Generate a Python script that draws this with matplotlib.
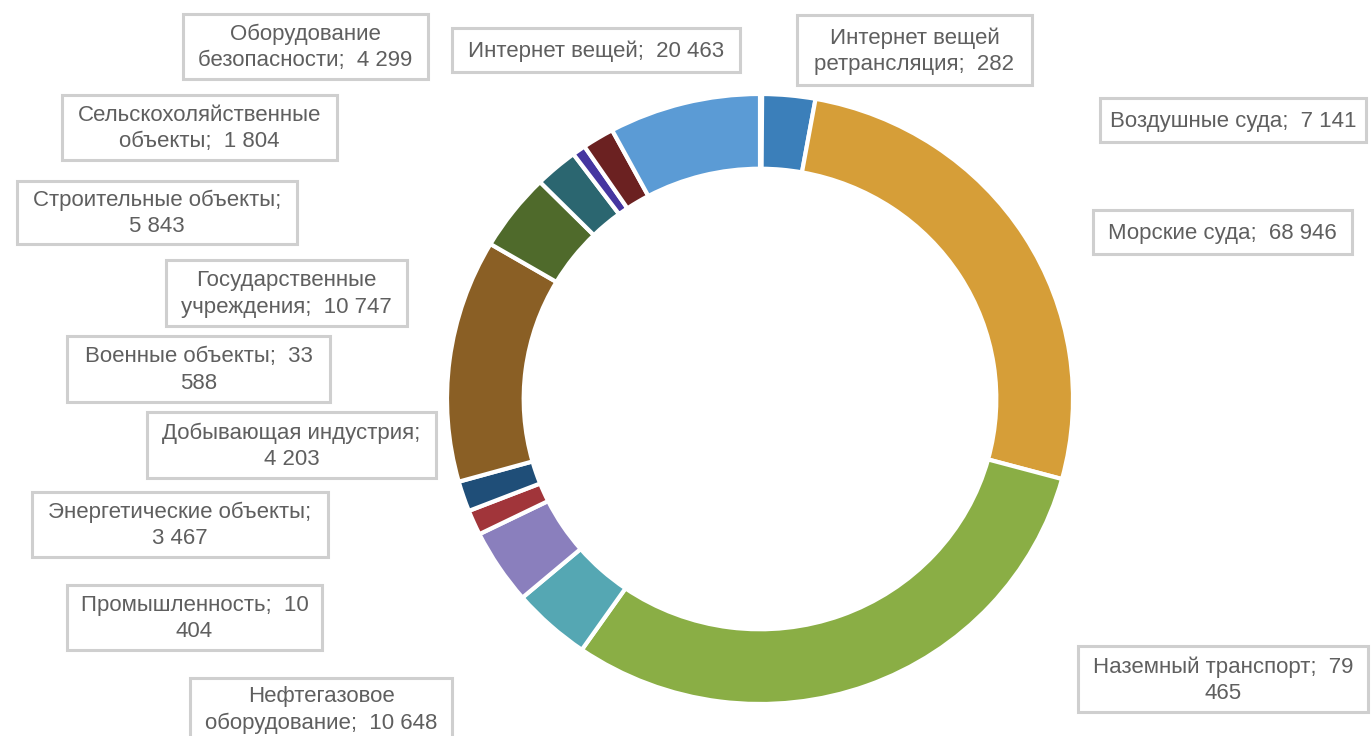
import matplotlib
matplotlib.use("Agg")
import matplotlib.pyplot as plt
from matplotlib.patches import Rectangle

plt.rcParams['font.family'] = ['Liberation Sans', 'DejaVu Sans']

# ---- data ----
categories = [
    "Интернет вещей ретрансляция", "Воздушные суда", "Морские суда",
    "Наземный транспорт", "Нефтегазовое оборудование", "Промышленность",
    "Энергетические объекты", "Добывающая индустрия", "Военные объекты",
    "Государственные учреждения", "Строительные объекты",
    "Сельскохоляйственные объекты", "Оборудование безопасности",
    "Интернет вещей",
]
values = [282, 7141, 68946, 79465, 10648, 10404, 3467, 4203, 33588,
          10747, 5843, 1804, 4299, 20463]
label_texts = [
    "Интернет вещей\nретрансляция;  282",
    "Воздушные суда;  7 141",
    "Морские суда;  68 946",
    "Наземный транспорт;  79\n465",
    "Нефтегазовое\nоборудование;  10 648",
    "Промышленность;  10\n404",
    "Энергетические объекты;\n3 467",
    "Добывающая индустрия;\n4 203",
    "Военные объекты;  33\n588",
    "Государственные\nучреждения;  10 747",
    "Строительные объекты;\n5 843",
    "Сельскохоляйственные\nобъекты;  1 804",
    "Оборудование\nбезопасности;  4 299",
    "Интернет вещей;  20 463",
]
colors = ["#4472C4", "#3B7FBA", "#D69E38", "#8AAE45", "#55A7B3", "#8A7FBD",
          "#A1353A", "#1F4E78", "#8A5F25", "#4F6A2B", "#2B6670", "#4536A0",
          "#6B2121", "#5B9BD5"]

# label box layout (pixels: x0, y0 top, x1, y1 bottom)
boxes = [
    (797, 15, 1032, 85), (1100, 98, 1366, 142), (1093, 210, 1352, 254),
    (1078, 646, 1368, 712), (190, 678, 452, 740), (67, 585, 322, 650),
    (32, 492, 328, 557), (147, 412, 436, 478), (67, 336, 330, 402),
    (166, 260, 407, 326), (17, 181, 297, 244), (62, 95, 337, 160),
    (183, 14, 428, 79), (452, 28, 740, 72),
]

W, H = 1372, 736
fig = plt.figure(figsize=(W / 100, H / 100), dpi=100)
fig.patch.set_facecolor("white")

cx, cy, RX, RY = 760, 399, 313, 305
ax = fig.add_axes([(cx - RX) / W, (H - cy - RY) / H, 2 * RX / W, 2 * RY / H])
ax.pie(values, colors=colors, startangle=90, counterclock=False, radius=1,
       wedgeprops=dict(width=0.245, edgecolor="white", linewidth=3))
ax.set_xlim(-1, 1)
ax.set_ylim(-1, 1)
ax.set_aspect("auto")
ax.axis("off")

bg = fig.add_axes([0, 0, 1, 1], zorder=5)
bg.set_xlim(0, W)
bg.set_ylim(H, 0)
bg.axis("off")
bg.patch.set_alpha(0)

for txt, (x0, y0, x1, y1) in zip(label_texts, boxes):
    bg.add_patch(Rectangle((x0, y0), x1 - x0, y1 - y0, facecolor="white",
                           edgecolor="#CFCFCF", linewidth=2.2, clip_on=False))
    bg.text((x0 + x1) / 2, (y0 + y1) / 2 + 1, txt, ha="center", va="center",
            fontsize=16, color="#5F5F5F", linespacing=1.32, multialignment="center")

fig.savefig("out.png", dpi=100, facecolor="white")
